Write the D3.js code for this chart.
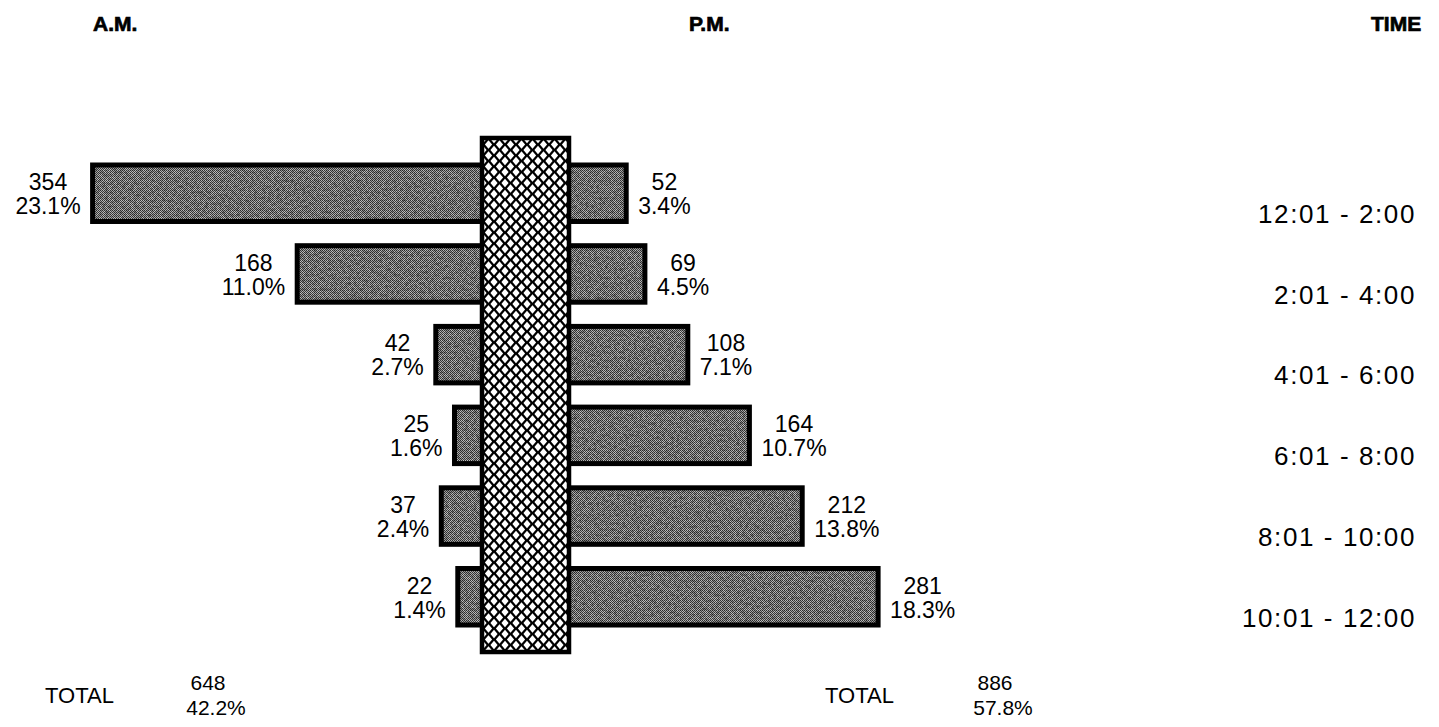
<!DOCTYPE html>
<html>
<head>
<meta charset="utf-8">
<script src="https://cdn.jsdelivr.net/npm/d3@7"></script>
<style>
  html, body { margin: 0; padding: 0; background: #fff; }
  svg { display: block; }
  text { font-family: "Liberation Sans", Arial, sans-serif; fill: #000; }
  .head { font-weight: bold; font-size: 21px; stroke: #000; stroke-width: 0.7px; }
</style>
</head>
<body>
<svg id="chart" width="1439" height="727"></svg>
<script>
// Two-hour time bands
const times = ["12:01 - 2:00", "2:01 - 4:00", "4:01 - 6:00", "6:01 - 8:00", "8:01 - 10:00", "10:01 - 12:00"];
// Counts and shares per band, morning and evening
const amCounts = [354, 168, 42, 25, 37, 22];
const amShares = ["23.1%", "11.0%", "2.7%", "1.6%", "2.4%", "1.4%"];
const pmCounts = [52, 69, 108, 164, 212, 281];
const pmShares = ["3.4%", "4.5%", "7.1%", "10.7%", "13.8%", "18.3%"];
const totalShares = ["42.2%", "57.8%"];

const svg = d3.select("#chart");
const defs = svg.append("defs");

// Dithered grey fill for the bars
const dither = defs.append("pattern")
  .attr("id", "dither").attr("patternUnits", "userSpaceOnUse")
  .attr("width", 2).attr("height", 2);
dither.append("rect").attr("width", 2).attr("height", 2).attr("fill", "#c0c0c0");
dither.append("rect").attr("width", 1).attr("height", 1).attr("fill", "#333");
dither.append("rect").attr("x", 1).attr("y", 1).attr("width", 1).attr("height", 1).attr("fill", "#444");

// Mottled grain laid over the grey
const grain = defs.append("filter").attr("id", "grain")
  .attr("x", 0).attr("y", 0).attr("width", 1).attr("height", 1);
grain.append("feTurbulence").attr("type", "fractalNoise")
  .attr("baseFrequency", "0.35").attr("numOctaves", 3).attr("seed", 7).attr("result", "n");
grain.append("feColorMatrix").attr("in", "n").attr("type", "matrix")
  .attr("values", "0 0 0 0 0  0 0 0 0 0  0 0 0 0 0  -1.6 0 0 0 1.05")
  .attr("result", "a");
grain.append("feComposite").attr("in", "a").attr("in2", "SourceGraphic").attr("operator", "in");

// Cross-hatch lattice for the centre column
const hatch = defs.append("pattern")
  .attr("id", "hatch").attr("patternUnits", "userSpaceOnUse")
  .attr("width", 11).attr("height", 11).attr("x", 483).attr("y", 139);
hatch.append("rect").attr("width", 11).attr("height", 11).attr("fill", "#000");
const diamond = (cx, cy) => `M${cx},${cy - 4.3}L${cx + 3.6},${cy}L${cx},${cy + 4.3}L${cx - 3.6},${cy}Z`;
hatch.append("path").attr("fill", "#fff")
  .attr("d", [diamond(5.5, 5.5), diamond(0, 0), diamond(11, 0), diamond(0, 11), diamond(11, 11)].join(""));

// Scales
const centreL = 482, centreR = 569;
const xLeft = d3.scaleLinear().domain([0, 360]).range([centreL, centreL - 396]);
const xRight = d3.scaleLinear().domain([0, 360]).range([centreR, centreR + 396]);
const y = d3.scaleBand().domain(times).range([165, 625]).paddingInner(0.3).paddingOuter(0);

const rows = times.map((t, i) => ({ t, am: amCounts[i], amS: amShares[i], pm: pmCounts[i], pmS: pmShares[i] }));

// Headers
svg.append("text").attr("class", "head").attr("x", 93).attr("y", 31).text("A.M.");
svg.append("text").attr("class", "head").attr("x", 689).attr("y", 31).text("P.M.");
svg.append("text").attr("class", "head").attr("x", 1371).attr("y", 31).text("TIME");

const bars = svg.append("g");
function drawBar(x0, x1, yy) {
  const g = bars.append("g");
  const w = x1 - x0, h = y.bandwidth();
  g.append("rect").attr("x", x0).attr("y", yy).attr("width", w).attr("height", h).attr("fill", "url(#dither)");
  g.append("rect").attr("x", x0).attr("y", yy).attr("width", w).attr("height", h)
    .attr("fill", "#555").attr("filter", "url(#grain)").attr("opacity", 0.55);
  g.append("rect").attr("x", x0).attr("y", yy).attr("width", w).attr("height", h)
    .attr("fill", "none").attr("stroke", "#000").attr("stroke-width", 5);
}
rows.forEach(d => {
  drawBar(xLeft(d.am), centreL + 10, y(d.t));
  drawBar(centreR - 10, xRight(d.pm), y(d.t));
});

// Centre column
svg.append("rect").attr("x", centreL).attr("y", 138).attr("width", centreR - centreL).attr("height", 514)
  .attr("fill", "url(#hatch)").attr("stroke", "#000").attr("stroke-width", 4.5);

// Value labels
const labels = svg.append("g").style("font-size", "23px");
rows.forEach(d => {
  const top = y(d.t);
  // morning: percentage right-aligned near the bar, count centred above it
  const pl = labels.append("text").attr("x", xLeft(d.am) - 12).attr("y", top + 49)
    .attr("text-anchor", "end").text(d.amS);
  const wl = pl.node().getComputedTextLength();
  labels.append("text").attr("x", xLeft(d.am) - 12 - wl / 2).attr("y", top + 25)
    .attr("text-anchor", "middle").text(d.am);
  // evening
  const pr = labels.append("text").attr("x", xRight(d.pm) + 12).attr("y", top + 49)
    .attr("text-anchor", "start").text(d.pmS);
  const wr = pr.node().getComputedTextLength();
  labels.append("text").attr("x", xRight(d.pm) + 12 + wr / 2).attr("y", top + 25)
    .attr("text-anchor", "middle").text(d.pm);
  // time band
  svg.append("text").attr("x", 1416).attr("y", top + 58).attr("text-anchor", "end")
    .style("font-size", "26px").style("letter-spacing", "1.6px").text(d.t);
});

// Totals
const totals = [
  { label: "TOTAL", lx: 45, vx: 216, n: d3.sum(amCounts), s: totalShares[0] },
  { label: "TOTAL", lx: 825, vx: 1003, n: d3.sum(pmCounts), s: totalShares[1] }
];
totals.forEach(t => {
  svg.append("text").attr("x", t.lx).attr("y", 703).style("font-size", "22px").text(t.label);
  svg.append("text").attr("x", t.vx - 8).attr("y", 690).attr("text-anchor", "middle").style("font-size", "21px").text(t.n);
  svg.append("text").attr("x", t.vx).attr("y", 715).attr("text-anchor", "middle").style("font-size", "21px").text(t.s);
});
</script>
</body>
</html>
